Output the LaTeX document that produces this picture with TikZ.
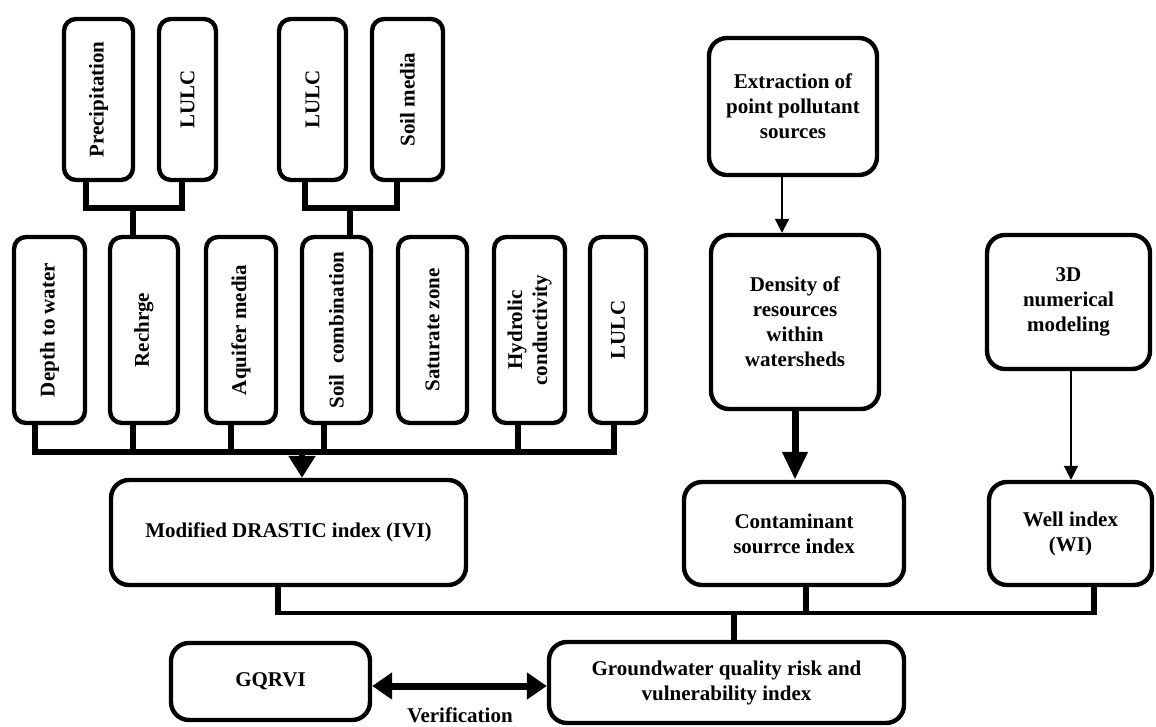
\documentclass[tikz,border=0pt]{standalone}
\usepackage{fontspec}
\setmainfont{Liberation Serif}
\usetikzlibrary{arrows.meta}
\begin{document}
\begin{tikzpicture}[x=0.5pt,y=-0.5pt,
  txt/.style={font=\fontsize{10.5}{12.5}\selectfont\bfseries, align=center, inner sep=0pt},
  vbox/.style={draw, line width=2.2pt, rounded corners=6pt, fill=white, inner sep=0pt},
  bbox/.style={draw, line width=2.2pt, rounded corners=9pt, fill=white, inner sep=0pt,
    font=\fontsize{10.5}{12.5}\selectfont\bfseries, align=center},
  rtxt/.style={txt, rotate=90},
  cone/.style={line width=3pt},
  thinarr/.style={line width=1pt, -{Triangle[width=7pt,length=7pt]}},
]
\useasboundingbox (0,0) rectangle (1156,727);

% ---- top row
\node[vbox, minimum width=34.5pt, minimum height=80.5pt] (prec) at (98.5,99.5) {};
\node[rtxt] (precT) at (prec) {Precipitation};
\node[vbox, minimum width=28.5pt, minimum height=80.5pt] (lulcA) at (187.5,99.5) {};
\node[rtxt] (lulcAT) at (lulcA) {LULC};
\node[vbox, minimum width=33.5pt, minimum height=80.5pt] (lulcB) at (312.5,99.5) {};
\node[rtxt] (lulcBT) at (lulcB) {LULC};
\node[vbox, minimum width=35.5pt, minimum height=80.5pt] (soilm) at (407.5,99.5) {};
\node[rtxt] (soilmT) at (soilm) {Soil media};

% ---- second row
\node[vbox, minimum width=35.5pt, minimum height=93pt] (depth) at (49.5,330) {};
\node[rtxt] (depthT) at (depth) {Depth to water};
\node[vbox, minimum width=34pt, minimum height=93pt] (rech) at (144,330) {};
\node[rtxt] (rechT) at (rech) {Rechrge};
\node[vbox, minimum width=35pt, minimum height=93pt] (aqui) at (241,330) {};
\node[rtxt] (aquiT) at (aqui) {Aquifer media};
\node[vbox, minimum width=34.5pt, minimum height=93pt] (soilc) at (336.5,330) {};
\node[rtxt] (soilcT) at (soilc) {Soil\ \ combination};
\node[vbox, minimum width=34.5pt, minimum height=93pt] (satz) at (432.5,330) {};
\node[rtxt] (satzT) at (satz) {Saturate zone};
\node[vbox, minimum width=35.5pt, minimum height=93pt] (hydro) at (529.5,330) {};
\node[rtxt] (hydroT) at (hydro) {Hydrolic\\conductivity};
\node[vbox, minimum width=28pt, minimum height=93pt] (lulcC) at (618,330) {};
\node[rtxt] (lulcCT) at (lulcC) {LULC};

% ---- right column
\node[bbox, minimum width=84pt, minimum height=68.5pt] (extr) at (793,106.5) {Extraction of\\point pollutant\\sources};
\node[bbox, minimum width=84pt, minimum height=87pt] (dens) at (795,322) {Density of\\resources\\within\\watersheds};
\node[bbox, minimum width=81.5pt, minimum height=67pt] (threed) at (1068.5,302) {3D\\numerical\\modeling};

% ---- index row
\node[bbox, minimum width=177.5pt, minimum height=52.5pt] (mod) at (288.5,532.5) {Modified DRASTIC index (IVI)};
\node[bbox, minimum width=110pt, minimum height=51.5pt] (contam) at (794,533.5) {Contaminant\\sourrce index};
\node[bbox, minimum width=81.5pt, minimum height=51.5pt] (well) at (1070.5,533.5) {Well index\\(WI)};

% ---- bottom row
\node[bbox, minimum width=99.5pt, minimum height=38.5pt] (gq) at (270.5,681.5) {GQRVI};
\node[bbox, minimum width=177.5pt, minimum height=40.5pt] (ground) at (726.5,682.5) {Groundwater quality risk and\\vulnerability index};
\node[txt] (ver) at (460,715) {Verification};

% ---- connectors top row
\draw[cone] (prec.south -| 86,0) -- (86,208) -- (182,208) -- (lulcA.south -| 182,0);
\draw[cone] (133,208) -- (rech.north -| 133,0);
\draw[cone] (lulcB.south -| 305,0) -- (305,208) -- (397,208) -- (soilm.south -| 397,0);
\draw[cone] (350,208) -- (soilc.north -| 350,0);

% ---- connectors second row
\draw[line width=3.4pt] (depth.south -| 35,0) -- (35,452) -- (614,452) -- (lulcC.south -| 614,0);
\draw[line width=3.4pt] (rech.south -| 133,0) -- (133,452);
\draw[line width=3.4pt] (aqui.south -| 231,0) -- (231,452);
\draw[line width=3.4pt] (soilc.south -| 324,0) -- (324,452);
\draw[line width=3.4pt] (hydro.south -| 518,0) -- (518,452);
\draw[line width=3pt, -{Triangle[width=13pt,length=11pt]}] (302,452) -- (mod.north -| 302,0);

% ---- right column arrows
\draw[thinarr] (extr.south -| 782,0) -- (dens.north -| 782,0);
\draw[line width=3.5pt, -{Triangle[width=12pt,length=14pt]}] (dens.south) -- (contam.north -| dens.south);
\draw[thinarr] (threed.south -| 1071,0) -- (well.north -| 1071,0);

% ---- bottom connectors
\draw[line width=2.8pt] (mod.south -| 278,0) -- (278,614.5);
\draw[line width=2.8pt] (contam.south -| 806,0) -- (806,614.5);
\draw[line width=2.8pt] (well.south -| 1094,0) -- (1094,614.5);
\draw[line width=1.6pt] (278,613) -- (1094,613);
\draw[line width=2.8pt] (734,612) -- (ground.north -| 734,0);

% ---- verification
\draw[line width=3.5pt, {Triangle[width=13pt,length=10pt]}-{Triangle[width=13pt,length=10pt]}] (gq.east |- 0,686) -- (ground.west |- 0,686);
\end{tikzpicture}
\end{document}
